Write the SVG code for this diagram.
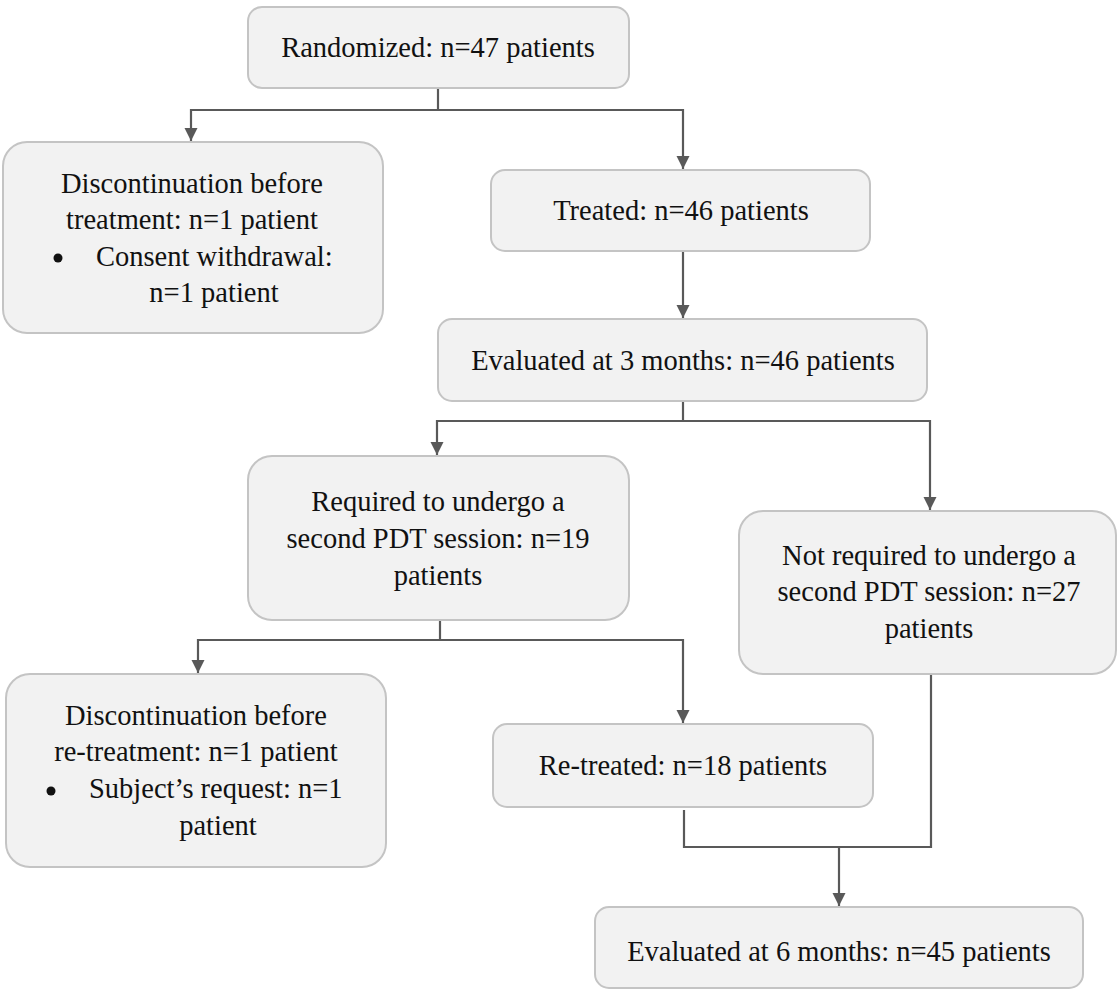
<svg xmlns="http://www.w3.org/2000/svg" width="1118" height="990" viewBox="0 0 1118 990">
<defs>
<style>
.box{fill:#f2f2f2;stroke:#c4c4c4;stroke-width:2}
.t{font-family:'Liberation Serif','Times New Roman',Tinos,'DejaVu Serif',serif;font-size:28.5px;fill:#111;text-anchor:middle}
.s{text-anchor:start}
.c{fill:none;stroke:#595959;stroke-width:2.2}
</style>
<marker id="ah" markerUnits="userSpaceOnUse" markerWidth="14" markerHeight="14" viewBox="0 0 14 14" refX="13" refY="7" orient="auto">
<path d="M0,0.5 L13,7 L0,13.5 Z" fill="#595959"/>
</marker>
</defs>
<rect width="1118" height="990" fill="#fff"/>
<g id="connectors">
<path class="c" d="M438 88 V110"/>
<path class="c" d="M683 110 H191 V141" marker-end="url(#ah)"/>
<path class="c" d="M438 110 H683 V169" marker-end="url(#ah)"/>
<path class="c" d="M683 251 V318" marker-end="url(#ah)"/>
<path class="c" d="M683 401 V421"/>
<path class="c" d="M683 421 H437 V455" marker-end="url(#ah)"/>
<path class="c" d="M683 421 H930 V510" marker-end="url(#ah)"/>
<path class="c" d="M440 620 V640"/>
<path class="c" d="M440 640 H198 V673" marker-end="url(#ah)"/>
<path class="c" d="M440 640 H683 V723" marker-end="url(#ah)"/>
<path class="c" d="M684 810 V847 H931 V674"/>
<path class="c" d="M839 847 V906" marker-end="url(#ah)"/>
</g>
<g font-family="'Liberation Serif', 'Times New Roman', serif">
<g id="randomized">
<rect class="box" x="248" y="7" width="381" height="81" rx="14"/>
<text class="t" x="438" y="57">Randomized: n=47 patients</text>
</g>
<g id="discontinuation1">
<rect class="box" x="3" y="142" width="380" height="191" rx="24"/>
<text class="t" x="192" y="193">Discontinuation before</text>
<text class="t" x="192" y="229">treatment: n=1 patient</text>
<circle cx="58" cy="258" r="4.5" fill="#111"/>
<text class="t s" x="96" y="266">Consent withdrawal:</text>
<text class="t" x="214" y="302">n=1 patient</text>
</g>
<g id="treated">
<rect class="box" x="491" y="170" width="379" height="81" rx="14"/>
<text class="t" x="681" y="220">Treated: n=46 patients</text>
</g>
<g id="evaluated3">
<rect class="box" x="438" y="319" width="489" height="82" rx="14"/>
<text class="t" x="683" y="370">Evaluated at 3 months: n=46 patients</text>
</g>
<g id="required">
<rect class="box" x="248" y="456" width="381" height="164" rx="24"/>
<text class="t" x="438" y="511">Required to undergo a</text>
<text class="t" x="438" y="548">second PDT session: n=19</text>
<text class="t" x="438" y="585">patients</text>
</g>
<g id="notrequired">
<rect class="box" x="739" y="511" width="377" height="163" rx="24"/>
<text class="t" x="929" y="565">Not required to undergo a</text>
<text class="t" x="929" y="601">second PDT session: n=27</text>
<text class="t" x="929" y="638">patients</text>
</g>
<g id="discontinuation2">
<rect class="box" x="6" y="674" width="380" height="193" rx="24"/>
<text class="t" x="196" y="725">Discontinuation before</text>
<text class="t" x="196" y="761">re-treatment: n=1 patient</text>
<circle cx="51" cy="791" r="4.5" fill="#111"/>
<text class="t s" x="89" y="798">Subject’s request: n=1</text>
<text class="t" x="218" y="835">patient</text>
</g>
<g id="retreated">
<rect class="box" x="493" y="724" width="380" height="83" rx="14"/>
<text class="t" x="683" y="775">Re-treated: n=18 patients</text>
</g>
<g id="evaluated6">
<rect class="box" x="595" y="907" width="488" height="81" rx="14"/>
<text class="t" x="839" y="961">Evaluated at 6 months: n=45 patients</text>
</g>
</g>
</svg>
